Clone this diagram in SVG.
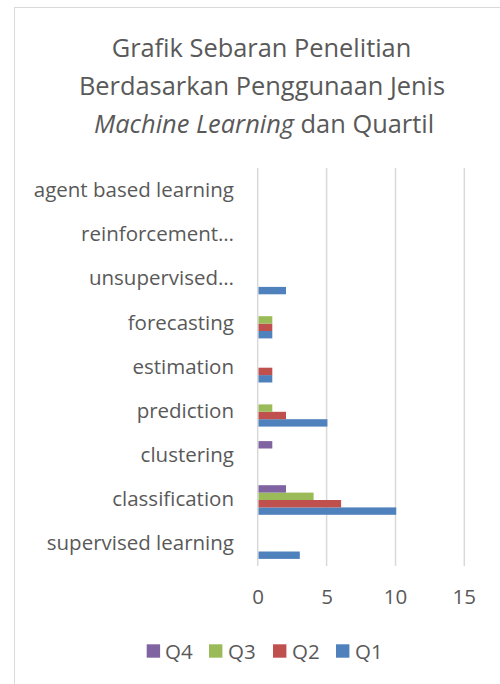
<svg xmlns="http://www.w3.org/2000/svg" width="500" height="684" viewBox="0 0 500 684">
<style>
text{font-family:"Open Sans","Liberation Sans",sans-serif;fill:#595959}
.title{font-size:25.4px;text-anchor:middle}
.cat{font-size:20.5px;text-anchor:end}
.tick{font-size:20.5px;text-anchor:middle}
.leg{font-size:20.5px}
.grid{stroke:#D9D9D9;stroke-width:1.5}
.q1{fill:#4F81BD}.q2{fill:#C0504D}.q3{fill:#9BBB59}.q4{fill:#8064A2}
</style>
<rect width="500" height="684" fill="#fff"/>
<rect x="14.5" y="7.5" width="500" height="700" fill="#fff" stroke="#D9D9D9" stroke-width="1"/>
<g id="title">
<text class="title" x="261.5" y="57">Grafik Sebaran Penelitian</text>
<text class="title" x="262" y="95">Berdasarkan Penggunaan Jenis</text>
<text class="title" x="264" y="133"><tspan font-style="italic">Machine Learning</tspan> dan Quartil</text>
</g>
<g id="gridlines">
<line class="grid" x1="257.7" y1="168" x2="257.7" y2="566"/>
<line class="grid" x1="326.6" y1="168" x2="326.6" y2="566"/>
<line class="grid" x1="395.5" y1="168" x2="395.5" y2="566"/>
<line class="grid" x1="464.3" y1="168" x2="464.3" y2="566"/>
</g>
<g id="categories">
<text class="cat" x="234" y="197">agent based learning</text>
<text class="cat" x="234" y="241">reinforcement…</text>
<text class="cat" x="234" y="285">unsupervised…</text>
<text class="cat" x="234" y="329.5">forecasting</text>
<text class="cat" x="234" y="373.5">estimation</text>
<text class="cat" x="234" y="417.5">prediction</text>
<text class="cat" x="234" y="461.5">clustering</text>
<text class="cat" x="234" y="506">classification</text>
<text class="cat" x="234" y="550">supervised learning</text>
</g>
<g id="ticks">
<text class="tick" x="258" y="604">0</text>
<text class="tick" x="327" y="604">5</text>
<text class="tick" x="395.5" y="604">10</text>
<text class="tick" x="464.3" y="604">15</text>
</g>
<g id="series-Q1" class="q1">
<rect x="258.5" y="551.5" width="41.3" height="7.4"/>
<rect x="258.5" y="507.4" width="137.7" height="7.4"/>
<rect x="258.5" y="419.2" width="68.9" height="7.4"/>
<rect x="258.5" y="375.1" width="13.8" height="7.4"/>
<rect x="258.5" y="331.0" width="13.8" height="7.4"/>
<rect x="258.5" y="286.9" width="27.5" height="7.4"/>
</g>
<g id="series-Q2" class="q2">
<rect x="258.5" y="500.0" width="82.6" height="7.4"/>
<rect x="258.5" y="411.8" width="27.5" height="7.4"/>
<rect x="258.5" y="367.7" width="13.8" height="7.4"/>
<rect x="258.5" y="323.6" width="13.8" height="7.4"/>
</g>
<g id="series-Q3" class="q3">
<rect x="258.5" y="492.6" width="55.1" height="7.4"/>
<rect x="258.5" y="404.4" width="13.8" height="7.4"/>
<rect x="258.5" y="316.2" width="13.8" height="7.4"/>
</g>
<g id="series-Q4" class="q4">
<rect x="258.5" y="485.2" width="27.5" height="7.4"/>
<rect x="258.5" y="441.1" width="13.8" height="7.4"/>
</g>
<g id="legend">
<rect class="q4" x="146.7" y="644.3" width="13.4" height="13.4"/>
<text class="leg" x="165" y="658.5">Q4</text>
<rect class="q3" x="209" y="644.3" width="13.4" height="13.4"/>
<text class="leg" x="228" y="658.5">Q3</text>
<rect class="q2" x="273" y="644.3" width="13.4" height="13.4"/>
<text class="leg" x="292" y="658.5">Q2</text>
<rect class="q1" x="336" y="644.3" width="13.4" height="13.4"/>
<text class="leg" x="355" y="658.5">Q1</text>
</g>
</svg>
